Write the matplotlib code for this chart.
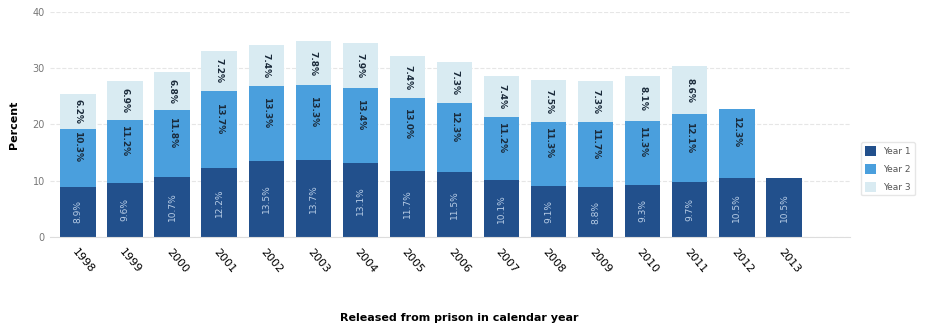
import numpy as np
import matplotlib
matplotlib.use("Agg")
import matplotlib.pyplot as plt
from matplotlib.patches import Patch

# ---------------- DATA ----------------
years = ["1998", "1999", "2000", "2001", "2002", "2003", "2004", "2005",
         "2006", "2007", "2008", "2009", "2010", "2011", "2012", "2013"]
year1 = [8.9, 9.6, 10.7, 12.2, 13.5, 13.7, 13.1, 11.7, 11.5, 10.1, 9.1, 8.8, 9.3, 9.7, 10.5, 10.5]
year2 = [10.3, 11.2, 11.8, 13.7, 13.3, 13.3, 13.4, 13.0, 12.3, 11.2, 11.3, 11.7, 11.3, 12.1, 12.3, 0]
year3 = [6.2, 6.9, 6.8, 7.2, 7.4, 7.8, 7.9, 7.4, 7.3, 7.4, 7.5, 7.3, 8.1, 8.6, 0, 0]
series_names = ["Year 1", "Year 2", "Year 3"]

# ---------------- STYLE ----------------
c1 = "#22508c"
c2 = "#4a9fdd"
c3 = "#d9ebf2"

fig = plt.figure(figsize=(9.37, 3.31), dpi=100)
ax = fig.add_axes([0.053, 0.284, 0.854, 0.68])

x = np.arange(len(years))
y1 = np.array(year1)
y2 = np.array(year2)
y3 = np.array(year3)
w = 0.75

ax.bar(x, y1, w, color=c1, zorder=2)
ax.bar(x, y2, w, bottom=y1, color=c2, zorder=2)
ax.bar(x, y3, w, bottom=y1 + y2, color=c3, zorder=2)

# value labels
for i in range(len(years)):
    ax.text(x[i], y1[i] / 2, f"{y1[i]:.1f}%", rotation=90, ha="center", va="center",
            color="#b8cde6", fontsize=6.5, zorder=3)
    if y2[i] > 0:
        ax.text(x[i], y1[i] + y2[i] / 2 + 2, f"{y2[i]:.1f}%", rotation=270, ha="center",
                va="center", color="#1a2a3a", fontsize=6.5, fontweight="bold", zorder=3)
    if y3[i] > 0:
        ax.text(x[i], y1[i] + y2[i] + y3[i] / 2, f"{y3[i]:.1f}%", rotation=270, ha="center",
                va="center", color="#1a2a3a", fontsize=6.5, fontweight="bold", zorder=3)

ax.set_xlim(-0.6, 16.4)
ax.set_ylim(0, 40)
ax.set_yticks([0, 10, 20, 30, 40])
ax.yaxis.grid(True, color="#e6e6e6", linestyle="--", linewidth=0.8, zorder=0)
ax.set_xticks(x)
ax.set_xticklabels(years, rotation=-50, ha="left", rotation_mode="anchor", fontsize=8)
ax.tick_params(axis="y", labelsize=7, colors="#777777", length=0)
ax.tick_params(axis="x", length=0, pad=7)
for s in ["top", "right", "left"]:
    ax.spines[s].set_visible(False)
ax.spines["bottom"].set_color("#dddddd")

ax.set_ylabel("Percent", fontsize=8, fontweight="bold", labelpad=10)
fig.text(0.49, 0.03, "Released from prison in calendar year", ha="center",
         fontsize=8, fontweight="bold")

handles = [Patch(facecolor=c1), Patch(facecolor=c2), Patch(facecolor=c3)]
fig.legend(handles, series_names, loc="center left", bbox_to_anchor=(0.914, 0.49),
           fontsize=6.5, frameon=True, edgecolor="#e0e0e0", handlelength=1.3,
           handleheight=1.3, labelspacing=0.9, labelcolor="#555555")

fig.savefig("out.png", dpi=100)
